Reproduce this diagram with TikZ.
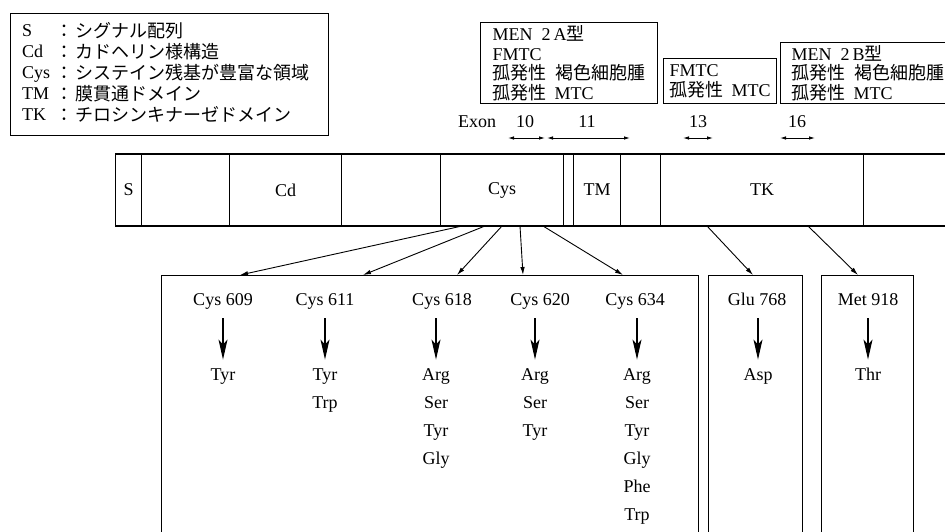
\documentclass[tikz,border=0pt]{standalone}
\usepackage{fontspec}
\setmainfont{Liberation Serif}
\newfontfamily\jp{Noto Sans CJK JP}
\usetikzlibrary{arrows.meta}
\begin{document}
\begin{tikzpicture}[x=1pt,y=-1pt,
  lat/.style={inner sep=0pt, font=\fontsize{18}{20}\selectfont, text height=12.5pt, text depth=4pt},
  jpn/.style={inner sep=0pt, font=\fontsize{18}{20}\selectfont\jp, text height=13pt, text depth=3pt},
  seg/.style={draw, line width=1.3pt, minimum height=72pt, inner sep=0pt, anchor=west, font=\fontsize{18}{20}\selectfont},
  frame/.style={draw, line width=1.2pt, inner sep=0pt, anchor=north west},
  ubox/.style={draw, line width=1.2pt, anchor=north west, align=left, inner sep=0pt, font=\fontsize{18}{19.5}\selectfont},
  conn/.style={line width=0.9pt, -{Latex[length=8pt,width=4.5pt]}},
  downarr/.style={line width=1.1pt, -{Stealth[length=20pt,width=9pt,inset=5pt]}},
  exarr/.style={line width=0.9pt, {Latex[length=6pt,width=3.5pt]}-{Latex[length=6pt,width=3.5pt]}},
]
\useasboundingbox (0,0) rectangle (945,531);
\clip (0,0) rectangle (945,531);
\fill[white] (0,0) rectangle (945,531);

% legend
\node[frame, minimum width=318pt, minimum height=122pt] (legend) at (10,13) {};
\foreach \lab/\txt [count=\i] in {S/シグナル配列, Cd/カドヘリン様構造, Cys/システイン残基が豊富な領域, TM/膜貫通ドメイン, TK/チロシンキナーゼドメイン}{
  \node[lat, anchor=west] (lk\i) at (22,{32+21*(\i-1)}) {\lab};
  \node[jpn] (lc\i) at (64,{32+21*(\i-1)}) {：};
  \node[jpn, anchor=west] (lt\i) at (75,{32+21*(\i-1)}) {\txt};
}

% upper boxes
\node[ubox, minimum width=177pt, minimum height=81pt] (men2a) at (480,22)
  {MEN\enspace 2\,A{\jp 型}\\ FMTC\\ {\jp 孤発性\hspace{0.5em}褐色細胞腫}\\ {\jp 孤発性}\hspace{0.45em}MTC};
\node[ubox, minimum width=113pt, minimum height=45pt] (fmtc) at (663,58)
  {FMTC\\ {\jp 孤発性}\hspace{0.45em}MTC};
\node[ubox, minimum width=175pt, minimum height=61pt] (men2b) at (780,42)
  {MEN\enspace 2\,B{\jp 型}\\ {\jp 孤発性\hspace{0.5em}褐色細胞腫}\\ {\jp 孤発性}\hspace{0.45em}MTC};

% exon labels
\node[lat] (exon) at (477,123) {Exon};
\node[lat] (n10) at (525,123) {10};
\node[lat] (n11) at (587,123) {11};
\node[lat] (n13) at (698,123) {13};
\node[lat] (n16) at (797,123) {16};
\coordinate (x10a) at (508,138); \coordinate (x10b) at (545,138);
\coordinate (x11a) at (547,138); \coordinate (x11b) at (630,138);
\coordinate (x13a) at (683,138); \coordinate (x13b) at (713,138);
\coordinate (x16a) at (780,138); \coordinate (x16b) at (815,138);
\draw[exarr] (x10a) -- (x10b);
\draw[exarr] (x11a) -- (x11b);
\draw[exarr] (x13a) -- (x13b);
\draw[exarr] (x16a) -- (x16b);

% protein bar
\node[seg, minimum width=26pt]  (sS)   at (115,190) {S};
\node[seg, minimum width=88pt]  (s2)   at (141,190) {};
\node[seg, minimum width=112pt] (sCd)  at (229,190) {Cd};
\node[seg, minimum width=99pt]  (s4)   at (341,190) {};
\node[seg, minimum width=123pt] (sCys) at (440,190) {Cys};
\node[seg, minimum width=10pt]  (s6)   at (563,190) {};
\node[seg, minimum width=47pt]  (sTM)  at (573,190) {TM};
\node[seg, minimum width=40pt]  (s8)   at (620,190) {};
\node[seg, minimum width=203pt] (sTK)  at (660,190) {TK};
\node[seg, minimum width=120pt] (s10)  at (863,190) {};

% lower boxes
\node[frame, minimum width=537pt, minimum height=300pt] (bigbox) at (161,275) {};
\node[frame, minimum width=94pt, minimum height=300pt] (glubox) at (708,275) {};
\node[frame, minimum width=92pt, minimum height=300pt] (metbox) at (821,275) {};

% connectors from bar
\coordinate (c1) at (462,226); \coordinate (t1) at (240,275);
\coordinate (c2) at (485,226); \coordinate (t2) at (363,275);
\coordinate (c3) at (502,226); \coordinate (t3) at (457,275);
\coordinate (c4) at (520,226); \coordinate (t4) at (523,275);
\coordinate (c5) at (543,226); \coordinate (t5) at (623,275);
\coordinate (c6) at (707,226); \coordinate (t6) at (753,275);
\coordinate (c7) at (808,226); \coordinate (t7) at (858,275);
\foreach \k in {1,...,7} \draw[conn] (c\k) -- (t\k);

% residues
\node[lat] (r609) at (223,301) {Cys 609};
\node[lat] (r611) at (325,301) {Cys 611};
\node[lat] (r618) at (442,301) {Cys 618};
\node[lat] (r620) at (540,301) {Cys 620};
\node[lat] (r634) at (635,301) {Cys 634};
\node[lat] (r768) at (757,301) {Glu 768};
\node[lat] (r918) at (868,301) {Met 918};

% substitutions
\foreach \w [count=\i] in {Tyr} \node[lat] (o609-\i) at (223,{376+28*(\i-1)}) {\w};
\foreach \w [count=\i] in {Tyr,Trp} \node[lat] (o611-\i) at (325,{376+28*(\i-1)}) {\w};
\foreach \w [count=\i] in {Arg,Ser,Tyr,Gly} \node[lat] (o618-\i) at (436,{376+28*(\i-1)}) {\w};
\foreach \w [count=\i] in {Arg,Ser,Tyr} \node[lat] (o620-\i) at (535,{376+28*(\i-1)}) {\w};
\foreach \w [count=\i] in {Arg,Ser,Tyr,Gly,Phe,Trp} \node[lat] (o634-\i) at (637,{376+28*(\i-1)}) {\w};
\foreach \w [count=\i] in {Asp} \node[lat] (o768-\i) at (758,{376+28*(\i-1)}) {\w};
\foreach \w [count=\i] in {Thr} \node[lat] (o918-\i) at (868,{376+28*(\i-1)}) {\w};

\foreach \r in {609,611,618,620,634,768,918}
  \draw[downarr, shorten <=9pt, shorten >=8pt] (r\r.south -| o\r-1.north) -- (o\r-1.north);
\end{tikzpicture}
\end{document}
